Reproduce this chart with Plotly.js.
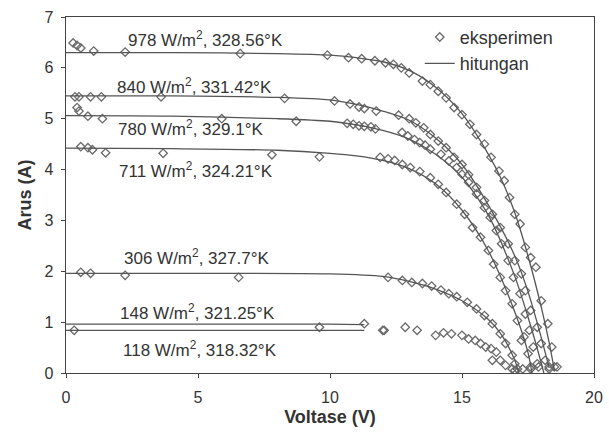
<!DOCTYPE html>
<html>
<head>
<meta charset="utf-8">
<script src="https://cdn.plot.ly/plotly-3.0.1.min.js"></script>
<style>html,body{margin:0;padding:0;background:#fff;}#chart{width:609px;height:432px;}</style>
</head>
<body>
<div id="chart"></div>
<script>
// ---- calculated curves (hitungan) ----
var v978c = [0, 4, 8, 10, 11, 12, 13, 14, 15, 16, 16.5, 17, 17.5, 18, 18.3, 18.5];
var i978c = [6.3, 6.3, 6.28, 6.25, 6.2, 6.12, 5.95, 5.62, 5.1, 4.3, 3.8, 3.15, 2.3, 1.3, 0.6, 0.05];
var v840c = [0, 4, 8, 10, 11, 12, 13, 14, 15, 16, 17, 17.5, 18, 18.3];
var i840c = [5.45, 5.45, 5.42, 5.37, 5.28, 5.15, 4.97, 4.62, 4.1, 3.3, 2.3, 1.6, 0.7, 0.1];
var v780c = [0, 4, 8, 10, 11, 12, 13, 14, 15, 16, 17, 17.5, 18, 18.1];
var i780c = [5.06, 5.05, 5.0, 4.95, 4.88, 4.77, 4.6, 4.3, 3.85, 3.1, 1.9, 1.1, 0.2, 0.0];
var v711c = [0, 4, 8, 10, 11, 12, 13, 14, 15, 16, 17, 17.5, 17.65];
var i711c = [4.42, 4.41, 4.38, 4.32, 4.27, 4.18, 4.02, 3.72, 3.2, 2.4, 1.2, 0.4, 0.0];
var v306c = [0, 5, 10, 12, 13, 14, 15, 16, 16.5, 17, 17.15];
var i306c = [1.96, 1.96, 1.95, 1.9, 1.8, 1.65, 1.42, 1.05, 0.75, 0.25, 0.0];
var v148c = [0, 5, 10, 11.3];
var i148c = [0.96, 0.96, 0.96, 0.95];
var v118c = [0, 5, 10, 11.3];
var i118c = [0.84, 0.84, 0.84, 0.84];

// ---- experimental points (eksperimen) ----
var v978e = [0.27, 0.42, 0.56, 1.05, 2.24, 6.6, 9.9, 10.7, 11.2, 11.7, 12.1, 12.4, 12.7, 13.0, 13.5, 13.8, 14.1, 14.4, 14.7, 15.0, 15.3, 15.55, 15.85, 16.1, 16.4, 16.6, 16.8, 17.0, 17.2, 17.4, 17.6, 17.8, 18.0, 18.25, 18.4, 18.5];
var i978e = [6.49, 6.44, 6.39, 6.33, 6.31, 6.28, 6.25, 6.2, 6.18, 6.14, 6.1, 6.07, 6.0, 5.9, 5.74, 5.67, 5.54, 5.41, 5.22, 5.08, 4.89, 4.69, 4.5, 4.24, 3.97, 3.78, 3.45, 3.12, 2.93, 2.47, 2.27, 2.08, 1.42, 0.97, 0.51, 0.12];
var v840e = [0.34, 0.49, 0.93, 1.34, 3.6, 8.28, 10.17, 10.76, 11.1, 11.3, 11.75, 12.6, 13.0, 13.25, 13.55, 13.8, 14.1, 14.4, 14.7, 15.0, 15.25, 15.55, 15.85, 16.15, 16.45, 16.75, 17.0, 17.25, 17.4, 17.6, 17.85, 18.0, 18.15, 18.3];
var i840e = [5.43, 5.43, 5.43, 5.43, 5.43, 5.4, 5.35, 5.29, 5.23, 5.2, 5.15, 5.07, 5.0, 4.92, 4.82, 4.69, 4.56, 4.43, 4.24, 4.1, 3.9, 3.65, 3.39, 3.12, 2.86, 2.54, 2.21, 1.95, 1.62, 1.23, 0.9, 0.58, 0.25, 0.08];
var v780e = [0.42, 0.49, 0.83, 1.38, 5.9, 8.72, 10.65, 10.88, 11.1, 11.3, 11.55, 11.72, 12.73, 12.95, 13.2, 13.4, 13.6, 13.8, 14.2, 14.5, 14.8, 15.0, 15.25, 15.55, 15.85, 16.07, 16.3, 16.5, 16.75, 16.95, 17.2, 17.4, 17.55, 17.7, 17.85];
var i780e = [5.22, 5.15, 5.05, 5.0, 5.0, 4.95, 4.91, 4.89, 4.86, 4.85, 4.84, 4.8, 4.73, 4.66, 4.59, 4.53, 4.48, 4.4, 4.3, 4.17, 4.04, 3.91, 3.75, 3.52, 3.25, 3.06, 2.8, 2.54, 2.21, 1.88, 1.56, 1.16, 0.84, 0.51, 0.18];
var v711e = [0.56, 0.83, 1.0, 1.5, 3.68, 7.8, 9.6, 11.9, 12.2, 12.45, 12.74, 13.04, 13.4, 13.8, 14.1, 14.4, 14.8, 15.1, 15.4, 15.7, 16.0, 16.2, 16.45, 16.65, 16.9, 17.1, 17.35, 17.5, 17.6];
var i711e = [4.45, 4.43, 4.39, 4.33, 4.32, 4.29, 4.25, 4.24, 4.21, 4.18, 4.1, 4.04, 3.96, 3.84, 3.71, 3.55, 3.32, 3.12, 2.86, 2.67, 2.41, 2.14, 1.88, 1.62, 1.36, 1.03, 0.71, 0.38, 0.12];
var v306e = [0.56, 0.93, 2.24, 6.54, 12.2, 12.74, 13.1, 13.5, 13.85, 14.2, 14.5, 14.8, 15.2, 15.55, 15.85, 16.15, 16.45, 16.65, 16.9, 17.0, 17.1];
var i306e = [1.98, 1.96, 1.92, 1.88, 1.88, 1.82, 1.78, 1.76, 1.71, 1.63, 1.56, 1.5, 1.39, 1.26, 1.13, 0.97, 0.77, 0.58, 0.35, 0.18, 0.08];
var vLowe = [0.31, 9.6, 11.3, 12.0, 12.05, 12.85, 13.3, 14.0, 14.3, 14.6, 15.0, 15.25, 15.5, 15.7, 15.9, 16.1, 16.3, 16.15, 16.45, 16.65, 16.9, 17.0, 17.3, 17.25, 17.6, 17.9, 18.3, 18.6];
var iLowe = [0.84, 0.9, 0.97, 0.84, 0.84, 0.9, 0.84, 0.74, 0.79, 0.77, 0.74, 0.67, 0.64, 0.58, 0.51, 0.48, 0.41, 0.25, 0.25, 0.15, 0.08, 0.05, 0.08, 0.64, 0.08, 0.12, 0.12, 0.12];

// ---- labels ----
var labelText = ['978 W/m<sup>2</sup>, 328.56°K', '840 W/m<sup>2</sup>, 331.42°K', '780 W/m<sup>2</sup>, 329.1°K',
                 '711 W/m<sup>2</sup>, 324.21°K', '306 W/m<sup>2</sup>, 327.7°K', '148 W/m<sup>2</sup>, 321.25°K',
                 '118 W/m<sup>2</sup>, 318.32°K'];
var labelV = [5.27, 4.87, 4.72, 4.94, 4.94, 4.97, 5.09];
var labelI = [6.56, 5.64, 4.82, 3.99, 2.29, 1.2, 0.48];

var lineColor = '#555555';
var markColor = '#6a6a6a';

var calc = [[v978c, i978c], [v840c, i840c], [v780c, i780c], [v711c, i711c], [v306c, i306c], [v148c, i148c], [v118c, i118c]];
var exps = [[v978e, i978e], [v840e, i840e], [v780e, i780e], [v711e, i711e], [v306e, i306e], [vLowe, iLowe]];

var traces = [];
exps.forEach(function (e, k) {
  traces.push({
    x: e[0], y: e[1], type: 'scatter', mode: 'markers',
    name: 'eksperimen', legendgroup: 'e', showlegend: k === 0,
    marker: {symbol: 'diamond-open', size: 6.5, color: markColor, line: {width: 1.3, color: markColor}}
  });
});
calc.forEach(function (c, k) {
  traces.push({
    x: c[0], y: c[1], type: 'scatter', mode: 'lines',
    name: 'hitungan', legendgroup: 'c', showlegend: k === 0,
    line: {color: lineColor, width: 1.3, shape: 'spline', smoothing: 0.8}
  });
});

var annotations = labelText.map(function (t, k) {
  return {x: labelV[k], y: labelI[k], xref: 'x', yref: 'y', text: t, showarrow: false,
          font: {family: 'Liberation Sans, Arial, sans-serif', size: 17, color: '#333'}};
});

var layout = {
  width: 609, height: 432,
  margin: {l: 66, r: 15, t: 17, b: 59},
  paper_bgcolor: '#fff', plot_bgcolor: '#fff',
  font: {family: 'Liberation Sans, Arial, sans-serif', color: '#333'},
  showlegend: true,
  legend: {x: 0.67, y: 0.995, xanchor: 'left', yanchor: 'top', bgcolor: 'rgba(0,0,0,0)',
           font: {size: 18, color: '#333'}, tracegroupgap: 0, itemwidth: 30},
  xaxis: {range: [0, 20], dtick: 5, tick0: 0, showgrid: false, zeroline: false,
          showline: true, linecolor: '#444', linewidth: 1.3, mirror: true,
          ticks: 'outside', ticklen: 4, tickcolor: '#444', ticklabelstandoff: 5,
          tickfont: {size: 16, color: '#333'},
          title: {text: '<b>Voltase (V)</b>', font: {size: 18, color: '#333'}, standoff: 6}},
  yaxis: {range: [0, 7], dtick: 1, tick0: 0, showgrid: false, zeroline: false,
          showline: true, linecolor: '#444', linewidth: 1.3, mirror: true,
          ticks: 'outside', ticklen: 4, tickcolor: '#444', ticklabelstandoff: 4,
          tickfont: {size: 16, color: '#333'},
          title: {text: '<b>Arus (A)</b>', font: {size: 18, color: '#333'}, standoff: 8}},
  annotations: annotations
};

Plotly.newPlot('chart', traces, layout, {staticPlot: true, displayModeBar: false});
</script>
</body>
</html>
